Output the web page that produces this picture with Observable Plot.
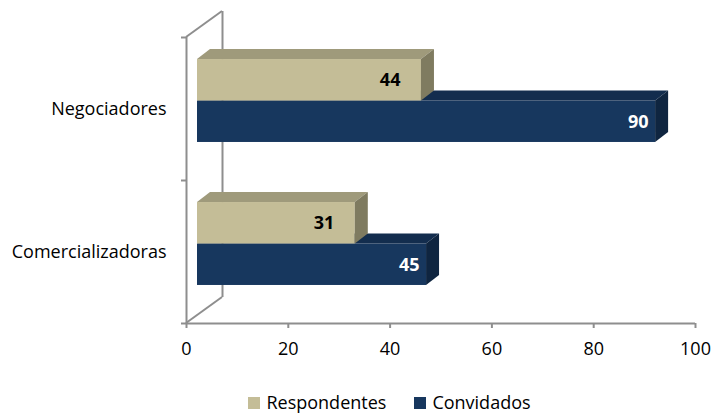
<!DOCTYPE html>
<html>
<head>
<meta charset="utf-8">
<script src="https://cdn.jsdelivr.net/npm/d3@7"></script>
<script src="https://cdn.jsdelivr.net/npm/@observablehq/plot@0.6"></script>
<style>
  body { margin: 0; background: #fff; font-family: "Open Sans", sans-serif; overflow: hidden; }
  #chart svg { display: block; }
  #legend { display: flex; justify-content: center; padding-left: 66px; margin-top: 6px; }
  #legend > div { min-height: 0 !important; height: 23px; line-height: 23px; margin: 0 !important; }
  #legend > div > span { margin-right: 0 !important; }
  #legend > div > span + span { margin-left: 28px !important; }
  #legend svg { margin-right: 6px !important; }
</style>
</head>
<body>
<div id="chart"></div>
<div id="legend"></div>
<script>
// Data (categories listed bottom to top)
const categories = ["Comercializadoras", "Negociadores"];
const series = ["Respondentes", "Convidados"];
const respondentes = [31, 44];
const convidados = [45, 90];
const xTicks = [0, 20, 40, 60, 80, 100];
const colors = ["#C4BD97", "#17375E"];

const FONT = "'Open Sans', sans-serif";
const FS = 18;
const AXIS = "#8e8e8e";
const DX = 11, DY = -8;        // bar depth position
const BDX = 13, BDY = -10;     // bar thickness (3D)
const WDX = 36, WDY = -26;     // wall depth
const HALF = 0.29;             // bar height (in band units)

const faces = {
  Respondentes: {front: "#C4BD97", top: "#9f9a7b", side: "#7f7b60"},
  Convidados: {front: "#17375E", top: "#132d4e", side: "#0f2540"}
};

const bars = categories.flatMap((cat, k) => [
  {cat, k, series: "Convidados", value: convidados[k]},
  {cat, k, series: "Respondentes", value: respondentes[k]}
]);

function barY(d) {
  const c = d.k + 0.5;
  return d.series === "Respondentes" ? [c, c + HALF] : [c - HALF, c];
}

function bars3d(data) {
  return (index, scales) => {
    const g = d3.create("svg:g");
    for (const d of data) {
      const [yLo, yHi] = barY(d);
      const x0 = scales.x(0) + DX, x1 = scales.x(d.value) + DX;
      const yt = scales.y(yHi) + DY, yb = scales.y(yLo) + DY;
      const f = faces[d.series];
      g.append("rect").attr("x", x0).attr("y", yt).attr("width", x1 - x0).attr("height", yb - yt).attr("fill", f.front);
      g.append("polygon").attr("points", [[x0, yt], [x0 + BDX, yt + BDY], [x1 + BDX, yt + BDY], [x1, yt]].join(" ")).attr("fill", f.top);
      g.append("polygon").attr("points", [[x1, yt], [x1 + BDX, yt + BDY], [x1 + BDX, yb + BDY], [x1, yb]].join(" ")).attr("fill", f.side);
    }
    return g.node();
  };
}

function walls() {
  return (index, scales) => {
    const g = d3.create("svg:g").attr("stroke", AXIS).attr("stroke-width", 2).attr("fill", "none");
    for (const yv of [0, categories.length]) {
      const x = scales.x(0), y = scales.y(yv);
      g.append("line").attr("x1", x).attr("y1", y).attr("x2", x + WDX).attr("y2", y + WDY);
    }
    return g.node();
  };
}

const labelData = bars.map(d => ({...d, mid: (barY(d)[0] + barY(d)[1]) / 2}));

const plot = Plot.plot({
  width: 713,
  height: 385,
  marginTop: 37,
  marginBottom: 62,
  marginLeft: 186,
  marginRight: 18,
  style: {fontFamily: FONT, fontSize: FS + "px", color: "#000", background: "#fff"},
  x: {domain: [0, 100], label: null},
  y: {domain: [0, categories.length], label: null},
  marks: [
    Plot.ruleX([0], {y1: 0, y2: categories.length, dx: WDX, dy: WDY, stroke: AXIS, strokeWidth: 2}),
    walls(),
    Plot.ruleX([0], {y1: 0, y2: categories.length, stroke: AXIS, strokeWidth: 2}),
    Plot.ruleY([0], {x1: 0, x2: 100, stroke: AXIS, strokeWidth: 2}),
    Plot.axisY({ticks: d3.range(categories.length + 1), tickSize: 5, tickFormat: () => "", stroke: AXIS, strokeWidth: 2, label: null}),
    Plot.axisY({ticks: categories.map((c, i) => i + 0.5), tickSize: 0, tickPadding: 20, tickFormat: v => categories[Math.floor(v)], fontSize: FS, fill: "#000", label: null}),
    Plot.axisX({ticks: xTicks, tickSize: 5, tickPadding: 14, stroke: AXIS, strokeWidth: 2, fontSize: FS, fill: "#000", label: null}),
    bars3d(bars),
    Plot.text(labelData.filter(d => d.series === "Respondentes"), {
      x: "value", y: "mid", text: d => String(d.value),
      textAnchor: "end", dx: -10, dy: DY,
      fill: "#000", fontWeight: "bold", fontSize: 18, fontFamily: FONT
    }),
    Plot.text(labelData.filter(d => d.series === "Convidados"), {
      x: "value", y: "mid", text: d => String(d.value),
      textAnchor: "end", dx: 4, dy: DY,
      fill: "#fff", fontWeight: "bold", fontSize: 18, fontFamily: FONT
    })
  ]
});
document.getElementById("chart").append(plot);

const legend = Plot.legend({
  color: {domain: series, range: colors},
  legend: "swatches",
  swatchSize: 12,
  style: {fontFamily: FONT, fontSize: FS + "px", color: "#000"}
});
document.getElementById("legend").append(legend);
</script>
</body>
</html>
